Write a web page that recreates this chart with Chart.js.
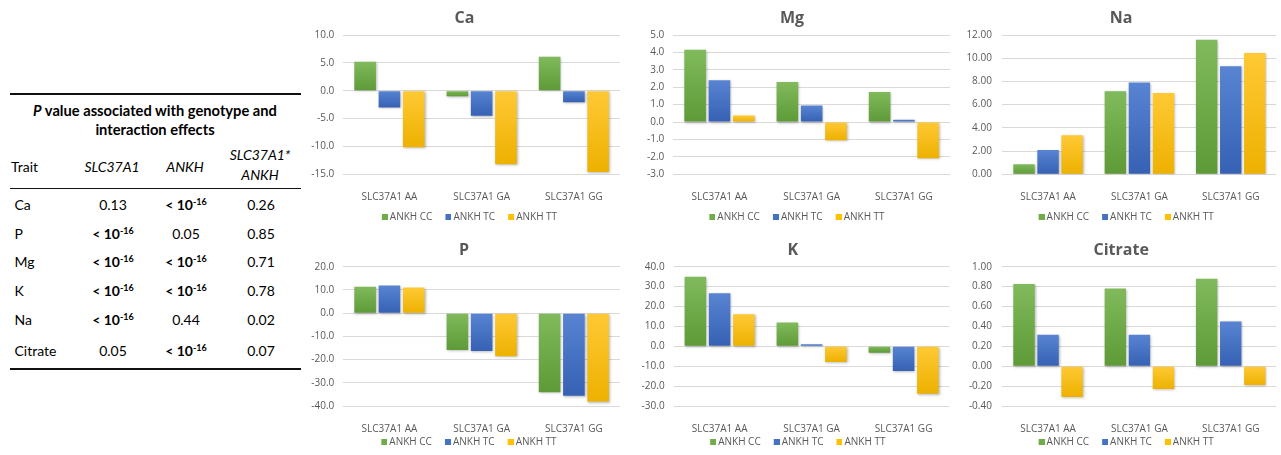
<!DOCTYPE html>
<html>
<head>
<meta charset="utf-8">
<script src="https://cdn.jsdelivr.net/npm/chart.js@4.4.1/dist/chart.umd.min.js"></script>
<style>
  html, body { margin: 0; padding: 0; background: #fff; }
  body { width: 1281px; height: 455px; position: relative; overflow: hidden; font-family: Lato, "Open Sans", sans-serif; }
  #table { position: absolute; left: 0; top: 0; width: 310px; height: 455px; color: #000; }
  .rule { position: absolute; left: 10px; width: 291px; background: #111; }
  .cc { position: absolute; transform: translate(-50%, -50%); white-space: nowrap; font-size: 14px; line-height: 1; }
  .cl { position: absolute; transform: translateY(-50%); white-space: nowrap; font-size: 14px; line-height: 1; }
  .ttl { font-size: 14.7px; }
  .b { font-weight: bold; }
  .i { font-style: italic; }
  sup { font-size: 9px; vertical-align: 5px; line-height: 0; }
  canvas { position: absolute; }
</style>
</head>
<body>
<div id="table"></div>
<canvas id="cCa"></canvas>
<canvas id="cMg"></canvas>
<canvas id="cNa"></canvas>
<canvas id="cP"></canvas>
<canvas id="cK"></canvas>
<canvas id="cCitrate"></canvas>
<script>
// ---- chart data ----
const categories = ['SLC37A1 AA', 'SLC37A1 GA', 'SLC37A1 GG'];
const seriesLabels = ['ANKH CC', 'ANKH TC', 'ANKH TT'];

const caCC = [5.2, -1.0, 6.1];
const caTC = [-3.0, -4.5, -2.05];
const caTT = [-10.15, -13.2, -14.6];
const caTicks = [-15, -10, -5, 0, 5, 10];

const mgCC = [4.15, 2.3, 1.72];
const mgTC = [2.4, 0.95, 0.13];
const mgTT = [0.38, -1.05, -2.08];
const mgTicks = [-3, -2, -1, 0, 1, 2, 3, 4, 5];

const naCC = [0.86, 7.15, 11.6];
const naTC = [2.1, 7.9, 9.3];
const naTT = [3.36, 7.0, 10.45];
const naTicks = [0, 2, 4, 6, 8, 10, 12];

const pCC = [11.4, -15.9, -34.1];
const pTC = [11.9, -16.3, -35.6];
const pTT = [11.0, -18.6, -38.1];
const pTicks = [-40, -30, -20, -10, 0, 10, 20];

const kCC = [35.0, 11.9, -3.2];
const kTC = [26.6, 1.0, -12.4];
const kTT = [16.1, -7.9, -23.8];
const kTicks = [-30, -20, -10, 0, 10, 20, 30, 40];

const citrateCC = [0.825, 0.78, 0.88];
const citrateTC = [0.315, 0.315, 0.45];
const citrateTT = [-0.31, -0.23, -0.19];
const citrateTicks = [-0.4, -0.2, 0, 0.2, 0.4, 0.6, 0.8, 1.0];

// ---- table data ----
const tableTitle = ['P value associated with genotype and', 'interaction effects'];
const tableHeader = ['Trait', 'SLC37A1', 'ANKH', 'SLC37A1*', 'ANKH'];
const traits = ['Ca', 'P', 'Mg', 'K', 'Na', 'Citrate'];
const pSLC37A1 = ['0.13', '< 10^-16', '< 10^-16', '< 10^-16', '< 10^-16', '0.05'];
const pANKH = ['< 10^-16', '0.05', '< 10^-16', '< 10^-16', '0.44', '< 10^-16'];
const pInteraction = ['0.26', '0.85', '0.71', '0.78', '0.02', '0.07'];

// ---- table ----
(function buildTable() {
  const t = document.getElementById('table');
  const add = (cls, x, y, html) => {
    const d = document.createElement('div');
    d.className = cls;
    d.style.left = x + 'px';
    d.style.top = y + 'px';
    d.innerHTML = html;
    t.appendChild(d);
  };
  const rule = (y, h) => {
    const d = document.createElement('div');
    d.className = 'rule';
    d.style.top = y + 'px';
    d.style.height = h + 'px';
    t.appendChild(d);
  };
  const fmt = v => {
    const m = v.match(/^< 10\^(-?\d+)$/);
    return m ? '<span class="b">&lt; 10<sup>' + m[1] + '</sup></span>' : v;
  };
  rule(92.5, 2);
  rule(187.5, 1.5);
  rule(367.5, 2);
  add('cc b ttl', 155, 110, tableTitle[0].replace(/^P /, '<span class="i">P</span> '));
  add('cc b ttl', 155, 129, tableTitle[1]);
  add('cl', 11, 167, tableHeader[0]);
  add('cc i', 112, 167, tableHeader[1]);
  add('cc i', 185, 167, tableHeader[2]);
  add('cc i', 260, 155, tableHeader[3]);
  add('cc i', 260, 175, tableHeader[4]);
  const rowY = [205, 233.5, 262, 291, 320, 350.5];
  traits.forEach((tr, i) => {
    add('cl', 14.5, rowY[i], tr);
    add('cc', 113, rowY[i], fmt(pSLC37A1[i]));
    add('cc', 186, rowY[i], fmt(pANKH[i]));
    add('cc', 261, rowY[i], fmt(pInteraction[i]));
  });
})();

// ---- charts ----
const fills = [
  { base: '#70AD47', light: '#80BA5C', dark: '#5E9A37' },
  { base: '#4472C4', light: '#5884D2', dark: '#3661B4' },
  { base: '#FFC000', light: '#FFC935', dark: '#EDB100' }
];
const textGrey = '#595959';
const FONT = '"Open Sans", Lato, sans-serif';

// legend key: small square sitting at the right end of a wider transparent tile,
// so the key hugs its text while items stay well apart
const KEY_W = 13;
function legendKey(color) {
  const c = document.createElement('canvas');
  c.width = KEY_W + 6; c.height = 6;
  const g = c.getContext('2d');
  g.fillStyle = color;
  g.fillRect(c.width - 6, 0, 6, 6);
  return c;
}
const legendKeys = fills.map(f => legendKey(f.base));

function barFill(idx) {
  return function (ctx) {
    const chart = ctx.chart;
    const f = fills[idx];
    if (!chart.chartArea || ctx.type !== 'data') return f.base;
    const y = chart.scales.y;
    const a = y.getPixelForValue(0);
    const b = y.getPixelForValue(ctx.raw);
    const top = Math.min(a, b), bottom = Math.max(a, b);
    if (bottom - top < 1) return f.base;
    const g = chart.ctx.createLinearGradient(0, top, 0, bottom);
    g.addColorStop(0, f.light);
    g.addColorStop(1, f.dark);
    return g;
  };
}

// soft drop shadow under the bars
const barShadow = {
  id: 'barShadow',
  beforeDatasetsDraw(chart) {
    const c = chart.ctx;
    c.save();
    c.shadowColor = 'rgba(0,0,0,0.28)';
    c.shadowBlur = 2.5;
    c.shadowOffsetX = 1;
    c.shadowOffsetY = 1;
  },
  afterDatasetsDraw(chart) { chart.ctx.restore(); }
};

function makeChart(spec) {
  // spec.mid = horizontal centre of title/legend, spec.plotL / spec.plotR = plot edges
  const left = 2 * spec.mid - spec.plotR;
  const w = spec.plotR - left;
  const cv = document.getElementById(spec.id);
  cv.width = Math.ceil(w); cv.height = spec.h;
  cv.style.left = left + 'px';
  cv.style.top = spec.top + 'px';
  cv.style.width = Math.ceil(w) + 'px';
  cv.style.height = spec.h + 'px';
  const padR = Math.ceil(w) - w;
  const ticks = spec.ticks;
  return new Chart(cv, {
    type: 'bar',
    data: {
      labels: categories,
      datasets: spec.series.map((vals, i) => ({
        label: seriesLabels[i],
        data: vals,
        backgroundColor: barFill(i),
        borderWidth: 0,
        categoryPercentage: 0.79,
        barPercentage: 0.89
      }))
    },
    options: {
      responsive: false,
      devicePixelRatio: 1,
      animation: false,
      layout: { padding: { left: 0, right: padR, top: 0, bottom: 0 } },
      plugins: {
        title: {
          display: true,
          text: spec.title,
          color: textGrey,
          font: { family: FONT, size: 16, weight: 'bold', lineHeight: 1.2 },
          padding: { top: spec.titleTop, bottom: spec.titleBottom }
        },
        legend: {
          position: 'bottom',
          maxHeight: spec.legendH,
          labels: {
            color: textGrey,
            font: { family: FONT, size: 10 },
            usePointStyle: true,
            pointStyleWidth: KEY_W,
            boxHeight: 6,
            padding: 3,
            generateLabels: chart => chart.data.datasets.map((ds, i) => ({
              text: ds.label,
              fillStyle: fills[i].base,
              strokeStyle: fills[i].base,
              lineWidth: 0,
              pointStyle: legendKeys[i],
              fontColor: textGrey,
              datasetIndex: i,
              hidden: false
            }))
          }
        },
        tooltip: { enabled: false }
      },
      scales: {
        x: {
          grid: { display: false, drawTicks: false },
          border: { display: false },
          ticks: { color: textGrey, font: { family: FONT, size: 10 }, padding: 17, maxRotation: 0 },
          afterFit: s => { s.height = spec.xH; }
        },
        y: {
          min: ticks[0],
          max: ticks[ticks.length - 1],
          grid: { color: '#D9D9D9', lineWidth: 1, drawTicks: false },
          border: { display: false },
          afterBuildTicks: s => { s.ticks = ticks.map(v => ({ value: v })); },
          ticks: {
            color: textGrey,
            font: { family: FONT, size: 10 },
            padding: spec.yPad,
            callback: v => Number(v).toFixed(spec.decimals)
          },
          afterFit: s => { s.width = spec.plotL - left; }
        }
      }
    },
    plugins: [barShadow]
  });
}

const topRow = { top: 0, h: 222, titleTop: 8.4, titleBottom: 7.4, xH: 34.4, legendH: 13.3 };
const bottomRow = { top: 225, h: 222, titleTop: 15.4, titleBottom: 7.1, xH: 27.7, legendH: 13.3 };

makeChart(Object.assign({}, topRow, { id: 'cCa', title: 'Ca', mid: 464.5, plotL: 343.3, plotR: 620, yPad: 9, decimals: 1, ticks: caTicks, series: [caCC, caTC, caTT] }));
makeChart(Object.assign({}, topRow, { id: 'cMg', title: 'Mg', mid: 792, plotL: 673.3, plotR: 950, yPad: 9, decimals: 1, ticks: mgTicks, series: [mgCC, mgTC, mgTT] }));
makeChart(Object.assign({}, topRow, { id: 'cNa', title: 'Na', mid: 1121.5, plotL: 1002.7, plotR: 1276.7, yPad: 10.5, decimals: 2, ticks: naTicks, series: [naCC, naTC, naTT] }));
makeChart(Object.assign({}, bottomRow, { id: 'cP', title: 'P', mid: 464, plotL: 343.3, plotR: 620, yPad: 9, decimals: 1, ticks: pTicks, series: [pCC, pTC, pTT] }));
makeChart(Object.assign({}, bottomRow, { id: 'cK', title: 'K', mid: 792.5, plotL: 673.3, plotR: 949.3, yPad: 9, decimals: 1, ticks: kTicks, series: [kCC, kTC, kTT] }));
makeChart(Object.assign({}, bottomRow, { id: 'cCitrate', title: 'Citrate', mid: 1121.5, plotL: 1002.7, plotR: 1276.7, yPad: 10.5, decimals: 2, ticks: citrateTicks, series: [citrateCC, citrateTC, citrateTT] }));
</script>
</body>
</html>
